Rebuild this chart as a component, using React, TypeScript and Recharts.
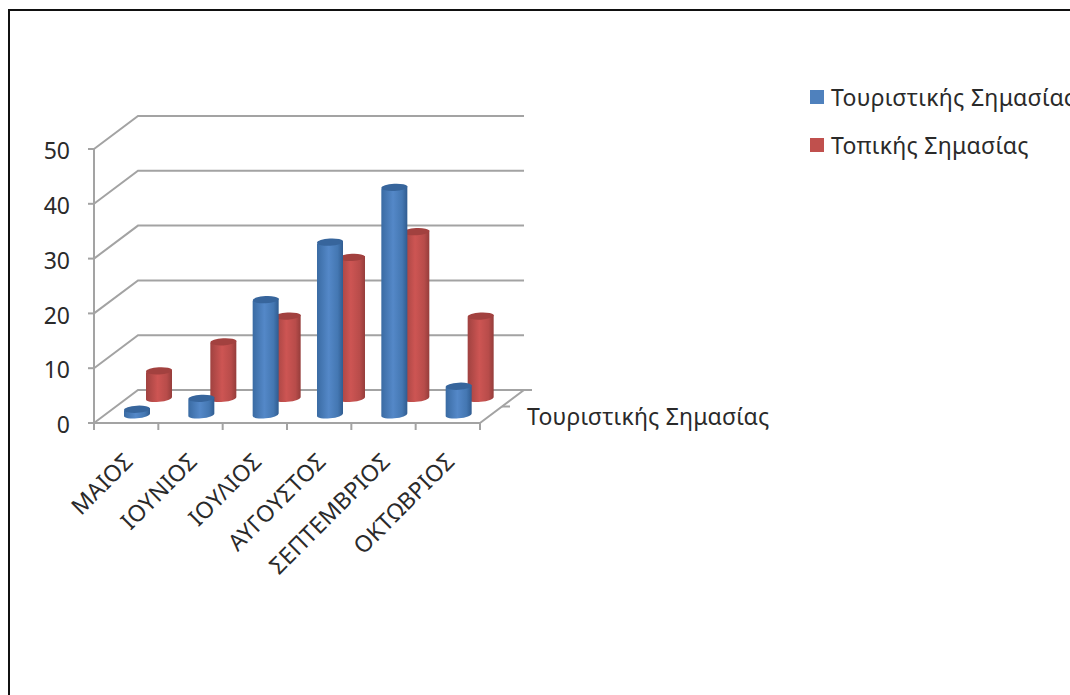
import React from 'react';
import { BarChart, Bar, XAxis, YAxis, CartesianGrid, Legend } from 'recharts';

const months = ['ΜΑΙΟΣ', 'ΙΟΥΝΙΟΣ', 'ΙΟΥΛΙΟΣ', 'ΑΥΓΟΥΣΤΟΣ', 'ΣΕΠΤΕΜΒΡΙΟΣ', 'ΟΚΤΩΒΡΙΟΣ'];
const touristValues = [1, 3, 21, 31.5, 41.5, 5.2];
const localValues = [5, 10.3, 15, 25.7, 30.4, 15];
const yTicks = [0, 10, 20, 30, 40, 50];
const touristName = 'Τουριστικής Σημασίας';
const localName = 'Τοπικής Σημασίας';

const data = months.map((month, i) => ({
  month,
  tourist: touristValues[i],
  local: localValues[i],
}));

const FONT = '"Noto Sans", sans-serif';
const TEXT_SIZE = 23;
const TEXT_COLOR = '#2a2a2a';
const TEXT_SPACING = 0.2;
const AXIS_COLOR = '#a3a3a3';
const CHART_W = 1070;
const CHART_H = 695;
const PLOT = { left: 94, right: 480, top: 149, bottom: 423 };
const BAND = (PLOT.right - PLOT.left) / months.length;

// oblique offset of the back wall from the front plane
const DEPTH_X = 44;
const DEPTH_Y = 33;

const Cylinder = (props: any) => {
  const { x, y, width, height, gradient, topColor, depth } = props;
  const rx = width / 2;
  const ry = 3.6;
  const tilt = 1.3;
  const cx = x + rx + DEPTH_X * depth;
  const topY = y - DEPTH_Y * depth;
  const baseY = y + height - DEPTH_Y * depth;
  const l = cx - rx;
  const r = cx + rx;
  const body = `M${l},${topY + tilt} L${l},${baseY + tilt} A${rx},${ry} -6 0 0 ${r},${baseY - tilt} L${r},${topY - tilt} Z`;
  return (
    <g>
      <path d={body} fill={`url(#${gradient})`} />
      <ellipse cx={cx} cy={topY} rx={rx} ry={ry} fill={topColor} transform={`rotate(-3 ${cx} ${topY})`} />
    </g>
  );
};

// every horizontal grid line runs along the side wall first, then across the back wall
const WallLine = (props: any) => {
  const { x1, y1, x2 } = props;
  const backY = y1 - DEPTH_Y;
  return (
    <path
      d={`M${x1},${y1} L${x1 + DEPTH_X},${backY} L${x2 + DEPTH_X},${backY}`}
      fill="none"
      stroke={AXIS_COLOR}
      strokeWidth={2}
    />
  );
};

const MonthTick = (props: any) => {
  const { x, payload, index } = props;
  const left = x - BAND / 2;
  const labelX = x + 8;
  const labelY = PLOT.bottom + 40;
  return (
    <g>
      <line x1={left} y1={PLOT.bottom} x2={left} y2={PLOT.bottom + 7} stroke={AXIS_COLOR} strokeWidth={2} />
      {index === months.length - 1 && (
        <line x1={left + BAND} y1={PLOT.bottom} x2={left + BAND} y2={PLOT.bottom + 7} stroke={AXIS_COLOR} strokeWidth={2} />
      )}
      <text
        x={labelX}
        y={labelY}
        textAnchor="end"
        transform={`rotate(-45 ${labelX} ${labelY})`}
        fontFamily={FONT}
        fontSize={TEXT_SIZE}
        letterSpacing={TEXT_SPACING}
        fill={TEXT_COLOR}
      >
        {payload.value}
      </text>
    </g>
  );
};

// right edge of the floor with the depth axis tick and its series label
const FloorEdge = () => {
  const x = PLOT.right;
  const y = PLOT.bottom;
  return (
    <g>
      <path
        d={`M${x},${y} L${x + DEPTH_X},${y - DEPTH_Y} L${x + DEPTH_X + 8},${y - DEPTH_Y}`}
        fill="none"
        stroke={AXIS_COLOR}
        strokeWidth={2}
      />
      <line x1={x + DEPTH_X / 2} y1={y - DEPTH_Y / 2} x2={x + DEPTH_X / 2 + 8} y2={y - DEPTH_Y / 2} stroke={AXIS_COLOR} strokeWidth={2} />
      <text x={x + 47} y={y + 2} fontFamily={FONT} fontSize={TEXT_SIZE} letterSpacing={TEXT_SPACING} fill={TEXT_COLOR}>
        {touristName}
      </text>
    </g>
  );
};

const LegendList = ({ payload }: any) => {
  // the red series is painted first, so the list is turned back to reading order
  const items = [...(payload ?? [])].sort((a, b) => (a.dataKey === 'tourist' ? -1 : b.dataKey === 'tourist' ? 1 : 0));
  return (
    <div>
      {items.map((item: any) => (
        <div key={item.value} style={{ display: 'flex', alignItems: 'center', height: 48, whiteSpace: 'nowrap' }}>
          <span style={{ width: 14, height: 14, background: item.color, marginRight: 7, flex: 'none' }} />
          <span style={{ fontFamily: FONT, fontSize: TEXT_SIZE, letterSpacing: 0.3, color: TEXT_COLOR }}>{item.value}</span>
        </div>
      ))}
    </div>
  );
};

const App = () => (
  <div style={{ position: 'absolute', left: 0, top: 0, width: CHART_W, height: CHART_H, overflow: 'hidden', background: '#fff' }}>
    <div
      style={{
        position: 'absolute',
        left: 8,
        top: 9,
        width: 1200,
        height: 900,
        borderLeft: '2.5px solid #111',
        borderTop: '2.5px solid #111',
      }}
    />
    <BarChart
      width={CHART_W}
      height={CHART_H}
      data={data}
      barSize={26}
      barGap={-26}
      margin={{ top: PLOT.top, left: PLOT.left - 60, right: CHART_W - PLOT.right, bottom: CHART_H - PLOT.bottom - 60 }}
      style={{ position: 'absolute', left: 0, top: 0 }}
    >
      <defs>
        <linearGradient id="blueBody" x1="0" y1="0" x2="1" y2="0">
          <stop offset="0" stopColor="#3a6ba3" />
          <stop offset="0.45" stopColor="#5488c8" />
          <stop offset="0.8" stopColor="#4477b2" />
          <stop offset="1" stopColor="#305c90" />
        </linearGradient>
        <linearGradient id="redBody" x1="0" y1="0" x2="1" y2="0">
          <stop offset="0" stopColor="#a04240" />
          <stop offset="0.45" stopColor="#cd5553" />
          <stop offset="0.8" stopColor="#b84c4a" />
          <stop offset="1" stopColor="#953d3b" />
        </linearGradient>
      </defs>
      <CartesianGrid horizontal={WallLine} vertical={false} />
      <XAxis
        dataKey="month"
        height={60}
        interval={0}
        tickLine={false}
        axisLine={{ stroke: AXIS_COLOR, strokeWidth: 2 }}
        tick={MonthTick}
      />
      <YAxis
        width={60}
        domain={[0, 50]}
        ticks={yTicks}
        tickSize={6}
        tickMargin={18}
        tickLine={{ stroke: AXIS_COLOR, strokeWidth: 2 }}
        axisLine={{ stroke: AXIS_COLOR, strokeWidth: 2 }}
        tick={{ fontFamily: FONT, fontSize: TEXT_SIZE, fill: TEXT_COLOR, dy: 2 }}
      />
      <FloorEdge />
      <Bar
        dataKey="local"
        name={localName}
        fill="#c0504d"
        isAnimationActive={false}
        shape={(p: any) => <Cylinder {...p} gradient="redBody" topColor="#a2413f" depth={0.75} />}
      />
      <Bar
        dataKey="tourist"
        name={touristName}
        fill="#4f81bd"
        isAnimationActive={false}
        shape={(p: any) => <Cylinder {...p} gradient="blueBody" topColor="#37659c" depth={0.25} />}
      />
      <Legend
        layout="horizontal"
        verticalAlign="middle"
        content={LegendList}
        wrapperStyle={{ position: 'absolute', left: 810, top: 73, width: 260 }}
      />
    </BarChart>
  </div>
);

export default App;
